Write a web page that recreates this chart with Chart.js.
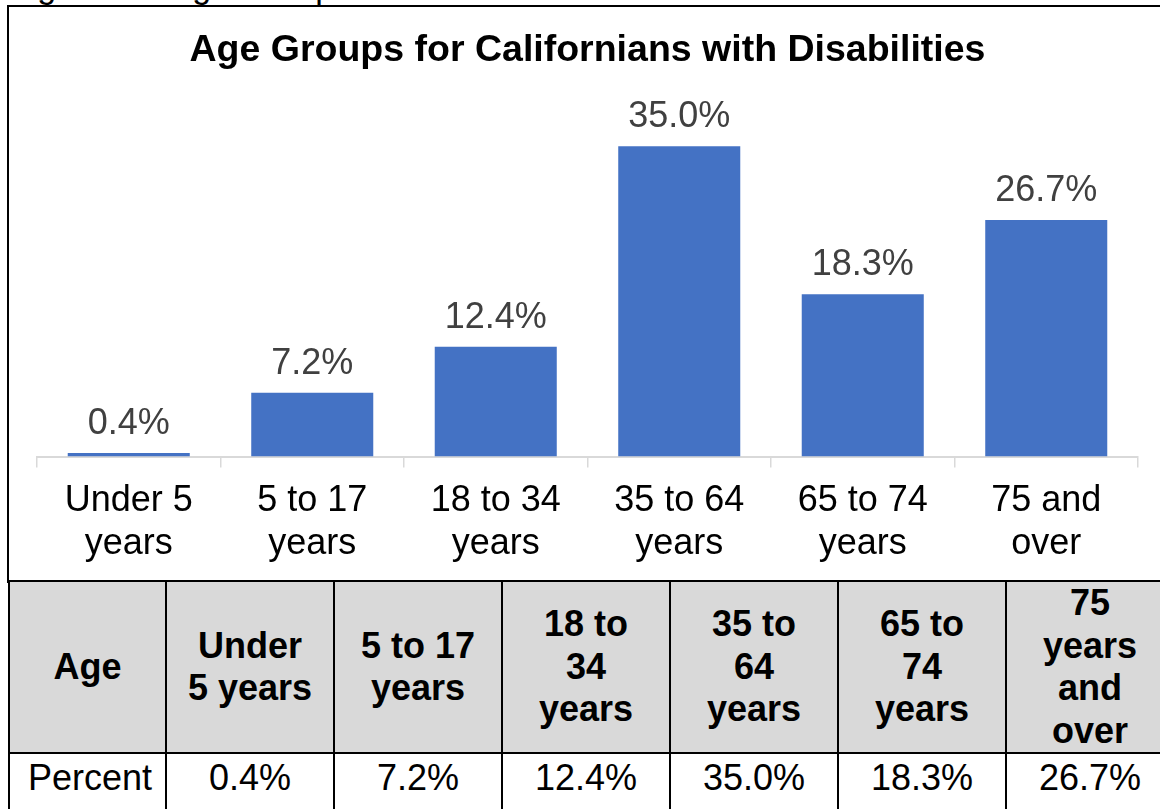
<!DOCTYPE html>
<html>
<head>
<meta charset="utf-8">
<script src="https://cdn.jsdelivr.net/npm/chart.js@4.4.1/dist/chart.umd.min.js"></script>
<style>
body {margin:0; overflow:hidden; background:#fff; font-family:"Liberation Sans", Arial, sans-serif;}
#caption {
  position:absolute; left:9px; top:-31px;
  font-size:34px; line-height:34px; white-space:nowrap; color:#000;
}
#box {
  position:absolute; left:7px; top:5px; width:1170px; height:576px;
  border-left:2px solid #000; border-top:2px solid #000;
}
#chartWrap {
  position:absolute; left:0; top:0; width:1160px; height:580px;
}
#tbl {
  position:absolute; left:8px; top:580px;
  border-collapse:collapse; table-layout:fixed; width:1165px;
}
#tbl td {
  border:2px solid #000; text-align:center; vertical-align:middle;
  font-size:36px; line-height:42.5px; color:#000; padding:0 18px;
}
#tbl tr.head td {background:#d9d9d9; font-weight:bold; height:169px;}
#tbl tr.vals td {vertical-align:top; height:60px; padding-top:3px;}
</style>
</head>
<body>
<div id="caption">Figure 10: Age Groups for Californians with Disabilities</div>
<div id="box"></div>
<div id="chartWrap"><canvas id="canvas"></canvas></div>
<table id="tbl"></table>
<script>
// age groups as shown under the bars (two lines each)
var axisLabels = [["Under 5","years"],["5 to 17","years"],["18 to 34","years"],["35 to 64","years"],["65 to 74","years"],["75 and","over"]];
// the same groups as written in the table header
var tableLabels = ["Under 5 years","5 to 17 years","18 to 34 years","35 to 64 years","65 to 74 years","75 years and over"];
// percent of Californians with disabilities in each group
var percents = [0.4, 7.2, 12.4, 35.0, 18.3, 26.7];

var FONT = '"Liberation Sans", Arial, sans-serif';

function fmt(v){ return v.toFixed(1) + '%'; }

// value above each bar
var barValues = {
  id: 'barValues',
  afterDatasetsDraw: function(chart) {
    var ctx = chart.ctx;
    var meta = chart.getDatasetMeta(0);
    ctx.save();
    ctx.font = '36px ' + FONT;
    ctx.fillStyle = '#404040';
    ctx.textAlign = 'center';
    ctx.textBaseline = 'alphabetic';
    for (var i = 0; i < meta.data.length; i++) {
      var bar = meta.data[i];
      ctx.fillText(fmt(percents[i]), bar.x, bar.y - 19);
    }
    ctx.restore();
  }
};

var ctx = document.getElementById('canvas').getContext('2d');
new Chart(ctx, {
  type: 'bar',
  data: {
    labels: axisLabels,
    datasets: [{
      data: percents,
      backgroundColor: '#4472c4',
      borderWidth: 0,
      categoryPercentage: 1,
      barPercentage: 0.665
    }]
  },
  options: {
    responsive: true,
    maintainAspectRatio: false,
    animation: false,
    layout: {padding: {left: 37, right: 22, top: 0, bottom: 2}},
    plugins: {
      legend: {display: false},
      tooltip: {enabled: false},
      title: {
        display: true,
        text: 'Age Groups for Californians with Disabilities',
        color: '#000',
        font: {family: FONT, size: 37.5, weight: 'bold'},
        padding: {top: 28.5, bottom: 28.5}
      }
    },
    scales: {
      x: {
        grid: {display: true, drawOnChartArea: false, drawTicks: true, tickLength: 11, color: '#d9d9d9', lineWidth: 1.5, offset: true},
        border: {display: true, color: '#d9d9d9', width: 2},
        ticks: {color: '#000', font: {family: FONT, size: 36}, padding: 12, maxRotation: 0, autoSkip: false}
      },
      y: {
        display: false,
        min: 0,
        max: 40
      }
    }
  },
  plugins: [barValues]
});

// data table under the chart
var tbl = document.getElementById('tbl');
var cols = '<colgroup><col style="width:157px">';
for (var c = 0; c < tableLabels.length; c++) cols += '<col style="width:168px">';
cols += '</colgroup>';
var head = '<tr class="head"><td>Age</td>';
var vals = '<tr class="vals"><td>Percent</td>';
for (var k = 0; k < tableLabels.length; k++) {
  head += '<td>' + tableLabels[k] + '</td>';
  vals += '<td>' + fmt(percents[k]) + '</td>';
}
tbl.innerHTML = cols + head + '</tr>' + vals + '</tr>';
</script>
</body>
</html>
